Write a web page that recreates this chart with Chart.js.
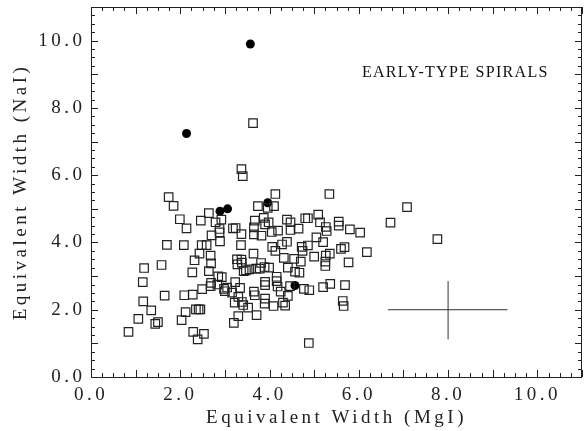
<!DOCTYPE html>
<html>
<head>
<meta charset="utf-8">
<script src="https://cdn.jsdelivr.net/npm/chart.js@4/dist/chart.umd.min.js"></script>
<style>
  html, body { margin: 0; padding: 0; background: #fff; }
  #c { display: block; }
</style>
</head>
<body>
<canvas id="c" width="584" height="431"></canvas>
<script>
// ---- Data ----
// Open squares: MgI equivalent width (x) and NaI equivalent width (y)
const squareMgI = [
  0.84, 1.06, 1.17, 1.16, 1.19, 1.35, 1.44, 1.50, 1.58, 1.65, 1.70, 1.74, 1.85, 1.99, 2.03, 2.08, 2.09, 2.12, 2.14,
  2.29, 2.28, 2.27, 2.32, 2.39, 2.35, 2.41, 2.45, 2.43, 2.46, 2.48, 2.49, 2.53, 2.59, 2.64, 2.64, 2.68, 2.69, 2.69,
  2.70, 2.68, 2.79, 2.83, 2.85, 2.88, 2.88, 2.89, 2.92, 2.93, 2.98, 3.00, 3.05, 3.16, 3.18, 3.22, 3.24, 3.23, 3.20,
  3.27, 3.28, 3.30, 3.30, 3.34, 3.36, 3.37, 3.37, 3.38, 3.37, 3.40, 3.38, 3.41, 3.42, 3.47, 3.52, 3.55, 3.64, 3.63,
  3.65, 3.65, 3.67, 3.65, 3.67, 3.71, 3.74, 3.70, 3.78, 3.81, 3.82, 3.87, 3.90, 3.89, 3.90, 3.90, 3.89, 3.90, 3.96,
  3.98, 3.99, 4.05, 4.06, 4.09, 4.10, 4.13, 4.13, 4.16, 4.16, 4.19, 4.18, 4.25, 4.28, 4.30, 4.32, 4.35, 4.39, 4.39,
  4.41, 4.41, 4.46, 4.47, 4.47, 4.55, 4.57, 4.65, 4.67, 4.70, 4.72, 4.74, 4.77, 4.80, 4.86, 4.86, 4.89, 4.88, 5.00,
  5.05, 5.09, 5.13, 5.20, 5.20, 5.25, 5.25, 5.26, 5.28, 5.26, 5.34, 5.35, 5.36, 5.55, 5.55, 5.60, 5.68, 5.64, 5.66,
  5.69, 5.77, 5.80, 6.03, 6.18, 6.71, 7.08, 7.76
];
const squareNaI = [
  1.34, 1.73, 2.25, 2.82, 3.24, 1.98, 1.58, 1.63, 3.33, 2.42, 3.93, 5.35, 5.09, 4.69, 1.69, 3.92, 2.43, 1.93, 4.42,
  1.34, 2.45, 3.11, 3.47, 1.12, 2.01, 2.01, 2.01, 3.67, 4.65, 3.92, 2.61, 1.28, 3.92, 4.87, 3.15, 3.61, 3.38, 2.80,
  4.21, 2.70, 4.60, 2.75, 2.99, 4.40, 4.30, 4.03, 4.68, 2.97, 2.62, 2.55, 2.66, 2.51, 4.42, 2.21, 4.43, 2.82, 1.61,
  3.50, 3.35, 2.38, 1.81, 2.65, 3.92, 4.25, 3.49, 3.40, 6.18, 5.97, 2.23, 2.14, 3.15, 3.17, 2.06, 3.20, 3.67, 7.55,
  4.45, 4.24, 4.65, 2.54, 2.43, 1.84, 5.08, 3.22, 3.22, 3.39, 4.20, 4.73, 4.54, 3.27, 2.73, 2.33, 2.18, 2.83, 5.03,
  4.60, 3.25, 4.31, 3.87, 2.11, 5.08, 5.44, 3.75, 2.98, 2.85, 4.35, 2.69, 2.54, 3.94, 2.21, 3.54, 2.12, 4.68, 4.02,
  3.25, 2.41, 2.70, 4.60, 4.37, 3.51, 3.13, 4.41, 3.10, 3.43, 3.87, 3.75, 2.62, 4.72, 4.72, 3.91, 2.58, 1.01, 3.58,
  4.15, 4.83, 4.60, 4.01, 2.67, 3.30, 3.43, 4.46, 4.34, 3.61, 5.44, 3.67, 2.77, 4.62, 4.50, 3.81, 3.86, 2.26, 2.11,
  2.73, 3.41, 4.39, 4.29, 3.71, 4.59, 5.05, 4.10
];
// Filled circles
const circleMgI = [3.57, 2.14, 2.89, 3.06, 3.96, 4.57];
const circleNaI = [9.90, 7.24, 4.93, 5.00, 5.18, 2.72];
// Typical error cross
const errCenter = [8.0, 2.0];
const errMgIRange = [6.65, 9.33];
const errNaIRange = [1.12, 2.85];
// Axis setup
const axisMax = [11, 11];
const labelStep = 2;
const minorStep = 0.25;
const yTickValues = [0, 2, 4, 6, 8, 10];
const annotationText = 'EARLY-TYPE SPIRALS';
const annotationPos = [6.07, 9.04];
const xTitle = 'Equivalent Width (MgI)';
const yTitle = 'Equivalent Width (NaI)';

// ---- Build datasets ----
const toPts = (xs, ys) => xs.map((x, i) => ({ x: x, y: ys[i] }));

const serif = "'Liberation Serif', 'DejaVu Serif', serif";
const SPACING = 3.5;

const framePlugin = {
  id: 'frameTicks',
  beforeDraw(chart) {
    chart.ctx.letterSpacing = SPACING + 'px';
  },
  afterDatasetsDraw(chart) {
    const { ctx, chartArea: a, scales: { x, y } } = chart;
    ctx.save();
    ctx.letterSpacing = '0px';
    ctx.strokeStyle = '#222';
    ctx.lineWidth = 1;
    ctx.strokeRect(Math.round(a.left) + 0.5, Math.round(a.top) + 0.5,
                   Math.round(a.right - a.left) - 1, Math.round(a.bottom - a.top));
    ctx.beginPath();
    const n = Math.round(axisMax[0] / minorStep);
    for (let i = 0; i <= n; i++) {
      const v = i * minorStep;
      const len = (Math.abs(v - Math.round(v)) < 1e-6) ? 7 : 4;
      const px = Math.round(x.getPixelForValue(v)) + 0.5;
      ctx.moveTo(px, a.bottom); ctx.lineTo(px, a.bottom - len);
      ctx.moveTo(px, a.top); ctx.lineTo(px, a.top + len);
    }
    const m = Math.round(axisMax[1] / minorStep);
    for (let i = 0; i <= m; i++) {
      const v = i * minorStep;
      const len = (Math.abs(v - Math.round(v)) < 1e-6) ? 7 : 4;
      const py = Math.round(y.getPixelForValue(v)) + 0.5;
      ctx.moveTo(a.left, py); ctx.lineTo(a.left + len, py);
      ctx.moveTo(a.right, py); ctx.lineTo(a.right - len, py);
    }
    ctx.stroke();
    // y tick labels (placed through the y scale)
    ctx.letterSpacing = SPACING + 'px';
    ctx.fillStyle = '#222';
    ctx.font = "19px " + serif;
    ctx.textAlign = 'right';
    ctx.textBaseline = 'middle';
    yTickValues.forEach(v => {
      ctx.fillText(v.toFixed(1), a.left - 9 + SPACING, y.getPixelForValue(v));
    });
    // annotation text
    ctx.letterSpacing = '1.3px';
    ctx.fillStyle = '#111';
    ctx.font = "16px " + serif;
    ctx.textBaseline = 'middle';
    ctx.textAlign = 'left';
    ctx.fillText(annotationText, x.getPixelForValue(annotationPos[0]), y.getPixelForValue(annotationPos[1]));
    ctx.restore();
  }
};

new Chart(document.getElementById('c'), {
  type: 'scatter',
  data: {
    datasets: [
      {
        label: 'squares',
        data: toPts(squareMgI, squareNaI),
        pointStyle: 'rect',
        pointRadius: 6,
        pointBorderWidth: 1.2,
        borderColor: '#222',
        backgroundColor: 'rgba(0,0,0,0)',
        pointHoverRadius: 6
      },
      {
        label: 'circles',
        data: toPts(circleMgI, circleNaI),
        pointStyle: 'circle',
        pointRadius: 4.5,
        pointBorderWidth: 0,
        borderColor: '#000',
        backgroundColor: '#000'
      },
      {
        label: 'errX',
        type: 'line',
        data: toPts(errMgIRange, [errCenter[1], errCenter[1]]),
        borderColor: '#333',
        borderWidth: 1,
        pointRadius: 0,
        fill: false
      },
      {
        label: 'errY',
        type: 'line',
        data: toPts([errCenter[0], errCenter[0]], errNaIRange),
        borderColor: '#333',
        borderWidth: 1,
        pointRadius: 0,
        fill: false
      }
    ]
  },
  options: {
    responsive: false,
    animation: false,
    devicePixelRatio: 1,
    events: [],
    layout: { autoPadding: false, padding: { left: 0, top: 7, right: 2, bottom: 0 } },
    plugins: { legend: { display: false }, tooltip: { enabled: false } },
    scales: {
      x: {
        type: 'linear',
        min: 0, max: axisMax[0],
        grid: { display: false, drawTicks: false },
        border: { display: false },
        ticks: {
          stepSize: labelStep,
          includeBounds: false,
          padding: 7,
          color: '#222',
          font: { family: serif, size: 19 },
          callback: v => (Math.abs(v % labelStep) < 1e-6 ? v.toFixed(1) : '')
        },
        title: {
          display: true, text: xTitle, color: '#222',
          font: { family: serif, size: 19 },
          padding: { top: 0, bottom: 2 }
        },
        afterFit: s => { s.height = 54; }
      },
      y: {
        type: 'linear',
        min: 0, max: axisMax[1],
        grid: { display: false, drawTicks: false },
        border: { display: false },
        ticks: { display: false, stepSize: labelStep },
        title: {
          display: true, text: yTitle, color: '#222',
          font: { family: serif, size: 19 },
          padding: { top: 10, bottom: 0 }
        },
        afterFit: s => { s.width = 91; }
      }
    }
  },
  plugins: [framePlugin]
});
</script>
</body>
</html>
